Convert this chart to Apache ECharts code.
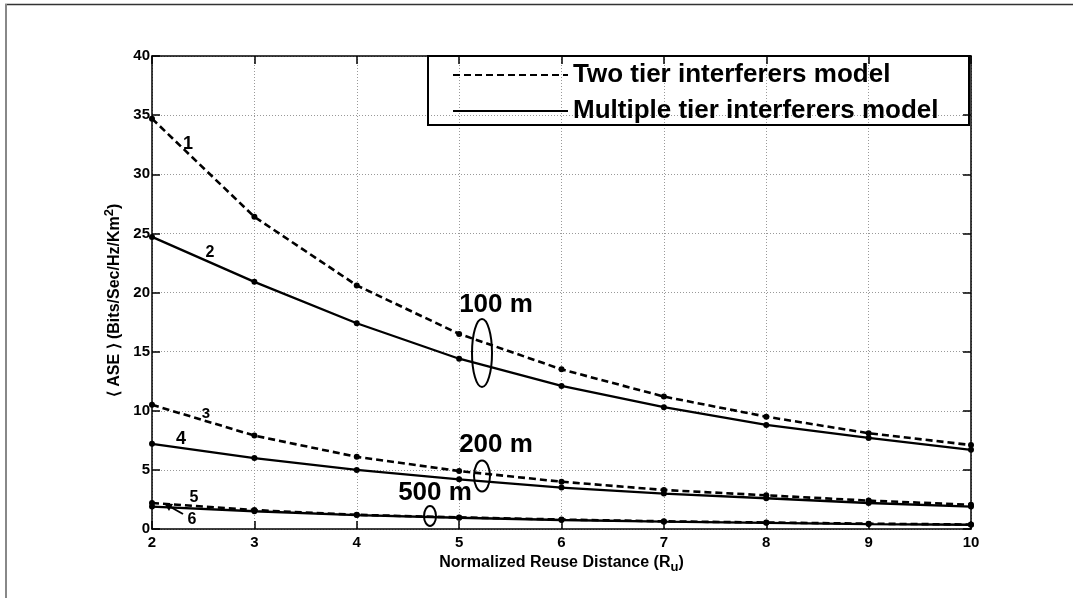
<!DOCTYPE html>
<html>
<head>
<meta charset="utf-8">
<script src="https://cdn.jsdelivr.net/npm/echarts@6/dist/echarts.min.js"></script>
<style>
html,body{margin:0;padding:0;background:#fff;}
#chart{width:1073px;height:598px;}
</style>
</head>
<body>
<div id="chart"></div>
<script>
// ---- data ----
const reuseDistance = [2, 3, 4, 5, 6, 7, 8, 9, 10];
const xTicks = [2, 3, 4, 5, 6, 7, 8, 9, 10];
const yTicks = [0, 5, 10, 15, 20, 25, 30, 35, 40];
const twoTier100m   = [34.7, 26.4, 20.6, 16.5, 13.5, 11.2, 9.5, 8.1, 7.1];
const multiTier100m = [24.7, 20.9, 17.4, 14.4, 12.1, 10.3, 8.8, 7.7, 6.7];
const twoTier200m   = [10.5, 7.9, 6.1, 4.9, 4.0, 3.3, 2.85, 2.4, 2.05];
const multiTier200m = [7.2, 6.0, 5.0, 4.2, 3.5, 3.0, 2.6, 2.2, 1.9];
const twoTier500m   = [2.2, 1.6, 1.2, 0.98, 0.8, 0.65, 0.55, 0.45, 0.38];
const multiTier500m = [1.9, 1.5, 1.18, 0.95, 0.76, 0.62, 0.52, 0.42, 0.36];
const legendNames = ['Two tier interferers model', 'Multiple tier interferers model'];

const FONT = '"Liberation Sans", Arial, Helvetica, sans-serif';
const pairs = ys => reuseDistance.map((x, i) => [x, ys[i]]);

function mkSeries(name, ys, dashed) {
  return {
    type: 'line', name: name, data: pairs(ys),
    xAxisIndex: 0, yAxisIndex: 0,
    smooth: false,
    symbol: 'circle', symbolSize: 6,
    itemStyle: { color: '#000' },
    lineStyle: { color: '#000', width: dashed ? 2.6 : 2.3, type: dashed ? [7, 4] : 'solid' },
    emphasis: { disabled: true },
    z: 3
  };
}

const chart = echarts.init(document.getElementById('chart'), null, { renderer: 'canvas' });

const axisLineStyle = { color: '#000', width: 1.5 };
const grid = { left: 152, right: 102, top: 56, bottom: 69 };

chart.setOption({
  animation: false,
  backgroundColor: '#fff',
  grid: grid,
  legend: {
    orient: 'vertical',
    left: 452, top: 60,
    itemWidth: 115, itemHeight: 14, itemGap: 6,
    padding: 0,
    data: legendNames,
    selectedMode: false,
    itemStyle: { opacity: 0 },
    textStyle: { fontFamily: FONT, fontSize: 26, fontWeight: 'bold', color: '#000', lineHeight: 30 }
  },
  xAxis: [{
    type: 'value', min: 2, max: 10, interval: 1,
    name: 'Normalized Reuse Distance (R{sub|u})',
    nameLocation: 'middle', nameGap: 21,
    nameTextStyle: { fontFamily: FONT, fontSize: 16, fontWeight: 'bold', color: '#000',
      rich: { sub: { fontFamily: FONT, fontSize: 13, fontWeight: 'bold', color: '#000', verticalAlign: 'bottom', padding: [9, 0, 0, 0] } } },
    axisLine: { show: true, onZero: false, lineStyle: axisLineStyle },
    axisTick: { show: true, inside: true, length: 8, lineStyle: axisLineStyle },
    axisLabel: { fontFamily: FONT, fontSize: 15, fontWeight: 'bold', color: '#000', margin: 6,
      customValues: xTicks },
    splitLine: { show: true, lineStyle: { color: '#999', width: 1, type: [1, 2] } }
  }, {
    type: 'value', min: 2, max: 10, interval: 1, position: 'top',
    axisLine: { show: true, onZero: false, lineStyle: axisLineStyle },
    axisTick: { show: true, inside: true, length: 8, lineStyle: axisLineStyle },
    axisLabel: { show: false }, splitLine: { show: false }
  }],
  yAxis: [{
    type: 'value', min: 0, max: 40, interval: 5,
    name: '⟨ ASE ⟩ (Bits/Sec/Hz/Km{sup|2})',
    nameLocation: 'middle', nameGap: 21, nameRotate: 90,
    nameTextStyle: { fontFamily: FONT, fontSize: 16, fontWeight: 'bold', color: '#000', padding: [0, 16, 0, 0],
      rich: { sup: { fontFamily: FONT, fontSize: 13, fontWeight: 'bold', color: '#000', verticalAlign: 'top', padding: [0, 0, 9, 0] } } },
    axisLine: { show: true, onZero: false, lineStyle: axisLineStyle },
    axisTick: { show: true, inside: true, length: 8, lineStyle: axisLineStyle },
    axisLabel: { fontFamily: FONT, fontSize: 15, fontWeight: 'bold', color: '#000', margin: 2,
      customValues: yTicks },
    splitLine: { show: true, lineStyle: { color: '#999', width: 1, type: [1, 2] } }
  }, {
    type: 'value', min: 0, max: 40, interval: 5, position: 'right',
    axisLine: { show: true, onZero: false, lineStyle: axisLineStyle },
    axisTick: { show: true, inside: true, length: 8, lineStyle: axisLineStyle },
    axisLabel: { show: false }, splitLine: { show: false }
  }],
  series: [
    mkSeries(legendNames[0], twoTier100m, true),
    mkSeries(legendNames[1], multiTier100m, false),
    mkSeries(legendNames[0], twoTier200m, true),
    mkSeries(legendNames[1], multiTier200m, false),
    mkSeries(legendNames[0], twoTier500m, true),
    mkSeries(legendNames[1], multiTier500m, false)
  ]
});

// annotations
const txt = (x, y, s, size) => ({
  type: 'text', x: x, y: y, z: 10,
  style: { text: s, fontFamily: FONT, fontSize: size, fontWeight: 'bold', fill: '#000', align: 'center', verticalAlign: 'middle' }
});
const ell = (cx, cy, rx, ry) => ({
  type: 'ellipse', z: 10, shape: { cx: cx, cy: cy, rx: rx, ry: ry },
  style: { fill: 'none', stroke: '#000', lineWidth: 2 }
});
chart.setOption({
  graphic: [
    { type: 'line', shape: { x1: 5, y1: 4.5, x2: 1073, y2: 4.5 }, style: { stroke: '#333', lineWidth: 1.5 } },
    { type: 'line', shape: { x1: 6, y1: 4, x2: 6, y2: 598 }, style: { stroke: '#888', lineWidth: 2 } },
    { type: 'rect', shape: { x: 428, y: 56, width: 541, height: 69 }, style: { fill: 'none', stroke: '#000', lineWidth: 2 }, z: 10 },
    txt(188, 144, '1', 18),
    txt(210, 253, '2', 16),
    txt(206, 414, '3', 15),
    txt(181, 439, '4', 18),
    txt(194, 498, '5', 16),
    txt(192, 520, '6', 16),
    { type: 'line', z: 10, shape: { x1: 183, y1: 514, x2: 167, y2: 505 }, style: { stroke: '#000', lineWidth: 2 } },
    { type: 'polygon', z: 10, shape: { points: [[164, 503], [173, 504], [169, 511]] }, style: { fill: '#000' } },
    txt(496, 305, '100 m', 26),
    ell(482, 353, 10, 34),
    txt(496, 445, '200 m', 26),
    ell(482, 476, 8, 15.5),
    txt(435, 493, '500 m', 26),
    ell(430, 516, 6, 10)
  ]
});
</script>
</body>
</html>
